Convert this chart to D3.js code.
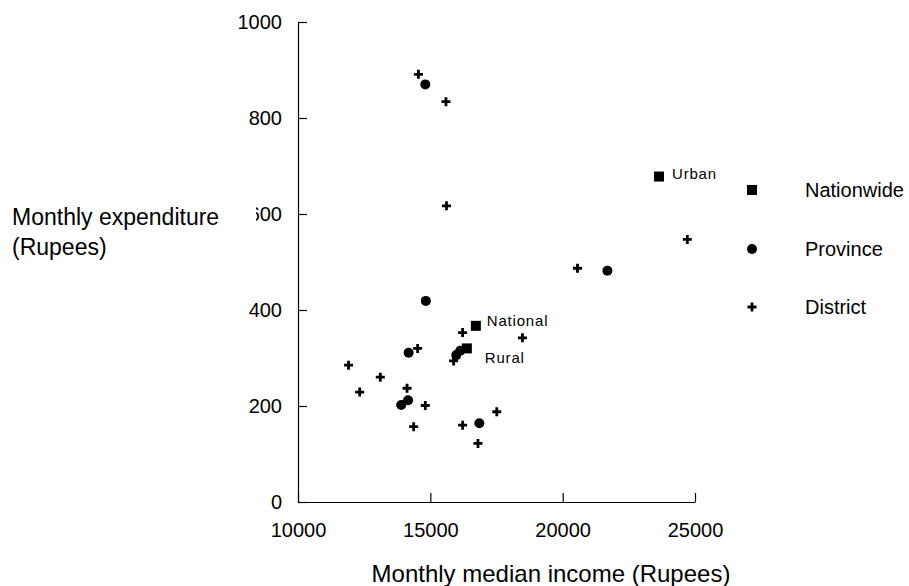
<!DOCTYPE html>
<html>
<head>
<meta charset="utf-8">
<script src="https://cdn.jsdelivr.net/npm/d3@7"></script>
<style>
  body { margin: 0; background: #fff; }
  svg { font-family: "Liberation Sans", Arial, sans-serif; }
</style>
</head>
<body>
<svg id="drawing_region"></svg>
<script>
// nationwide points: [income, expenditure]
const nationNames = ['National', 'Rural', 'Urban'];
const nationIncome = [16720, 16380, 23640];
const nationExpend = [367, 320, 678];

// province points
const provIncome = [14810, 14830, 14180, 15980, 16130, 13900, 14160, 16850, 21690];
const provExpend = [870, 419, 311, 306, 315, 202, 212, 164, 482];

// district points
const distIncome = [14550, 15590, 15610, 16220, 18480, 15880, 14520, 11910, 13110,
                    12330, 14120, 14810, 14370, 16220, 17510, 16800, 24710, 20560];
const distExpend = [891, 834, 617, 353, 342, 294, 320, 285, 260,
                    229, 237, 201, 157, 160, 188, 122, 547, 487];

const xTicks = [10000, 15000, 20000, 25000];
const yTicks = [0, 200, 400, 600, 800, 1000];
const legendLabels = ['Nationwide', 'Province', 'District'];

class ScatterChart {
    constructor(config) {
        this.config = config;
        this.init();
    }

    init() {
        let self = this;
        self.svg = d3.select(self.config.parent)
            .attr('width', self.config.width)
            .attr('height', self.config.height);

        self.x = d3.scaleLinear().domain([10000, 25000]).range([298, 695]);
        self.y = d3.scaleLinear().domain([0, 1000]).range([502, 22]);
    }

    render() {
        let self = this;
        let svg = self.svg;

        // axes
        let yAxis = d3.axisLeft(self.y).tickValues(yTicks).tickFormat(d3.format('d'))
            .tickSizeInner(-9).tickSizeOuter(0).tickPadding(16);
        let gy = svg.append('g').attr('transform', `translate(${self.x(10000)},0)`).call(yAxis);

        let xAxis = d3.axisBottom(self.x).tickValues(xTicks).tickFormat(d3.format('d'))
            .tickSizeInner(-9).tickSizeOuter(0).tickPadding(21);
        let gx = svg.append('g').attr('transform', `translate(0,${self.y(0)})`).call(xAxis);

        [gx, gy].forEach(g => {
            g.selectAll('path,line').attr('stroke', '#000').attr('stroke-width', 1.2);
            g.selectAll('text').attr('font-size', 20).attr('fill', '#000')
                .attr('font-family', '"Liberation Sans", Arial, sans-serif');
        });

        // y title (its box hides part of the 600 label)
        svg.append('rect').attr('x', 0).attr('y', 198).attr('width', 256).attr('height', 32).attr('fill', '#fff');
        svg.append('text').attr('x', 12).attr('y', 225).attr('font-size', 23).text('Monthly expenditure');
        svg.append('text').attr('x', 12).attr('y', 255).attr('font-size', 23).text('(Rupees)');

        // x title
        svg.append('text').attr('x', 551).attr('y', 582).attr('text-anchor', 'middle')
            .attr('font-size', 24).text('Monthly median income (Rupees)');

        // marks
        const drawPlus = (g, cx, cy) => {
            g.append('path')
                .attr('d', `M${cx - 4.5},${cy}H${cx + 4.5}M${cx},${cy - 4.5}V${cy + 4.5}`)
                .attr('stroke', '#000').attr('stroke-width', 2.8);
        };

        let dots = svg.append('g');
        distIncome.forEach((v, i) => drawPlus(dots, self.x(v), self.y(distExpend[i])));

        dots.selectAll('circle.prov').data(provIncome).enter()
            .append('circle')
            .attr('cx', d => self.x(d))
            .attr('cy', (d, i) => self.y(provExpend[i]))
            .attr('r', 5)
            .attr('fill', '#000');

        dots.selectAll('rect.nat').data(nationIncome).enter()
            .append('rect')
            .attr('x', d => self.x(d) - 5)
            .attr('y', (d, i) => self.y(nationExpend[i]) - 5)
            .attr('width', 10).attr('height', 10)
            .attr('fill', '#000');

        const labelOffset = { National: [11, 0], Rural: [18, 15], Urban: [13, 2] };
        dots.selectAll('text').data(nationNames).enter()
            .append('text')
            .attr('x', (d, i) => self.x(nationIncome[i]) + labelOffset[d][0])
            .attr('y', (d, i) => self.y(nationExpend[i]) + labelOffset[d][1])
            .attr('font-size', 15)
            .attr('letter-spacing', 0.8)
            .text(d => d);

        // legend
        let lg = svg.append('g');
        const ly = [190, 249, 307];
        lg.append('rect').attr('x', 747).attr('y', ly[0] - 5).attr('width', 10).attr('height', 10).attr('fill', '#000');
        lg.append('circle').attr('cx', 752).attr('cy', ly[1]).attr('r', 5).attr('fill', '#000');
        drawPlus(lg, 752, ly[2]);
        lg.selectAll('text').data(legendLabels).enter()
            .append('text')
            .attr('x', 805)
            .attr('y', (d, i) => ly[i] + 7)
            .attr('font-size', 20)
            .text(d => d);
    }
}

let chart = new ScatterChart({ parent: '#drawing_region', width: 909, height: 586 });
chart.render();
</script>
</body>
</html>
